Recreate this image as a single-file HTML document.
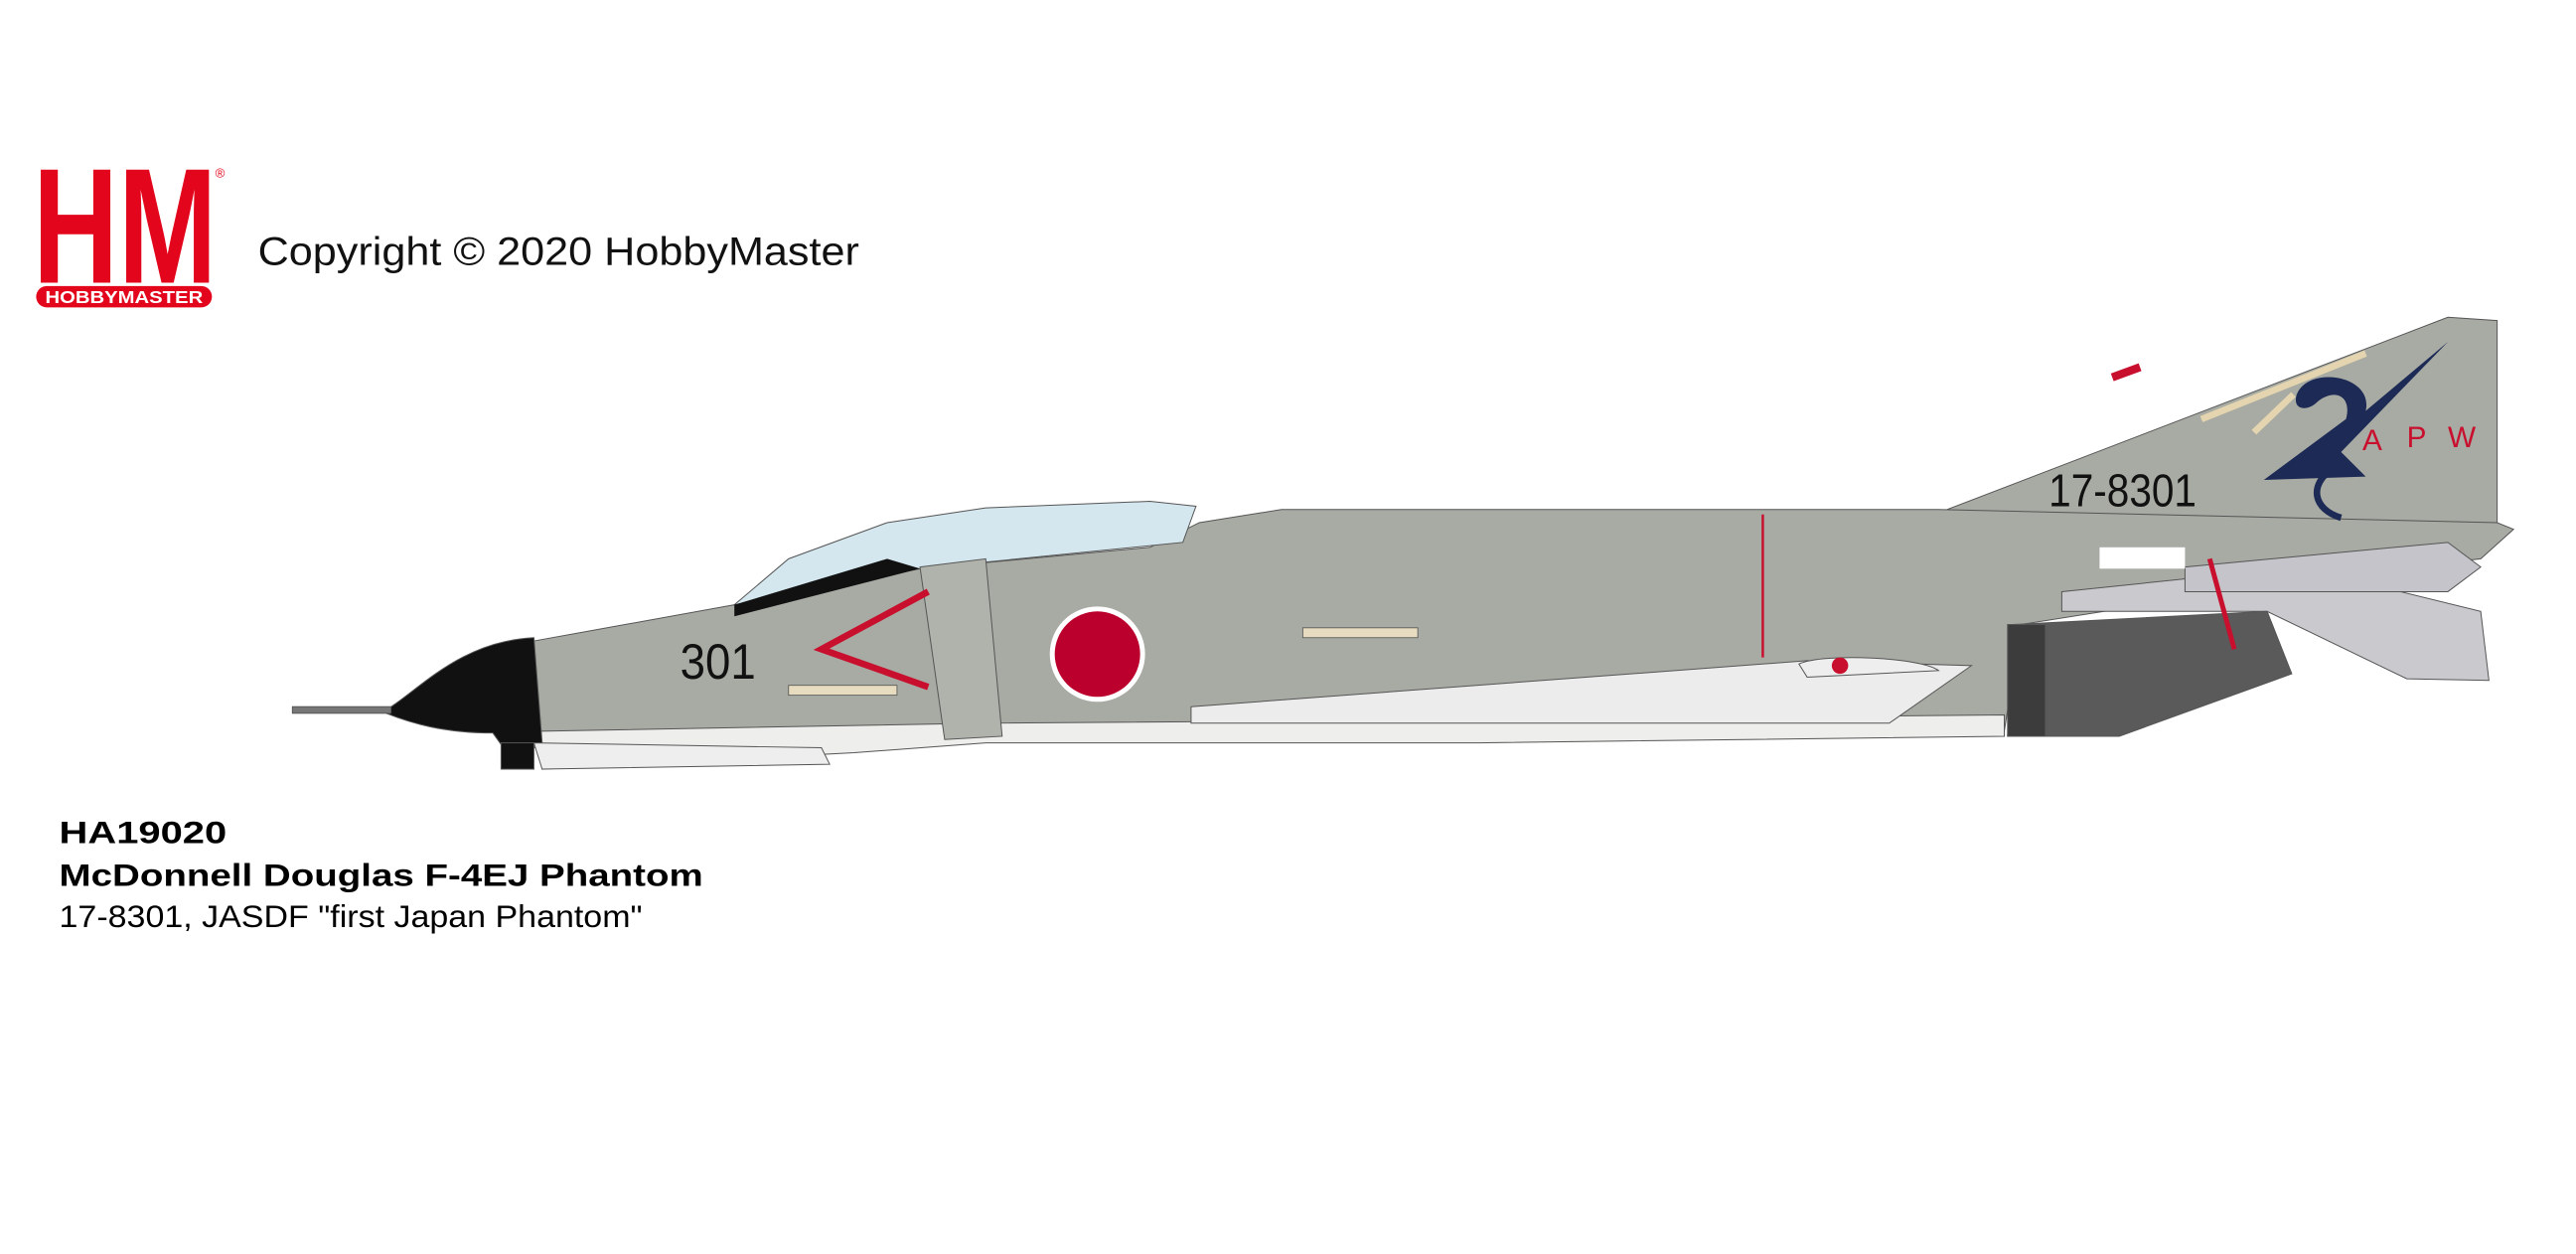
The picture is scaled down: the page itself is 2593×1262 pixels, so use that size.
<!DOCTYPE html>
<html><head><meta charset="utf-8"><style>
html,body{margin:0;padding:0;background:#fff;}
svg{display:block;}
</style></head><body>
<svg width="2593" height="1262" viewBox="0 0 1568 763" xmlns="http://www.w3.org/2000/svg">
<rect width="1568" height="763" fill="#fff"/>
<g font-family="Liberation Sans, sans-serif">
<text x="20" y="172" font-size="100" font-weight="bold" fill="#e3051b" textLength="112" lengthAdjust="spacingAndGlyphs">HM</text>
<text x="131" y="108" font-size="8" fill="#e3051b">®</text>
<rect x="22" y="174" width="107" height="13" rx="6.5" fill="#e3051b"/>
<text x="75.5" y="184.5" font-size="10.5" font-weight="bold" fill="#fff" text-anchor="middle" textLength="96" lengthAdjust="spacingAndGlyphs">HOBBYMASTER</text>
<text x="157" y="161" font-size="24" fill="#111" textLength="366" lengthAdjust="spacingAndGlyphs">Copyright © 2020 HobbyMaster</text>
<text x="36" y="513" font-size="19" font-weight="bold" fill="#000" textLength="102" lengthAdjust="spacingAndGlyphs">HA19020</text>
<text x="36" y="539" font-size="19" font-weight="bold" fill="#000" textLength="392" lengthAdjust="spacingAndGlyphs">McDonnell Douglas F-4EJ Phantom</text>
<text x="36" y="564" font-size="19" fill="#000" textLength="355" lengthAdjust="spacingAndGlyphs">17-8301, JASDF "first Japan Phantom"</text>
</g>
<g stroke="#555" stroke-width="0.6">
<path d="M1180 312 L1490 193 L1520 195 L1520 322 L1180 322 Z" fill="#a8aba3"/>
<path d="M325 390 L447 368 L560 346 L700 333 L730 318 L780 310 L1180 310 L1520 318 L1530 322 L1510 340 L1420 350 L1230 380 L1220 445 L900 445 L600 450 L325 455 Z" fill="#a8aba3"/>
<path d="M325 445 L600 440 L900 438 L1220 435 L1220 448 L900 452 L600 452 L520 458 L330 468 Z" fill="#eeeeec"/>
<path d="M447 368 L480 340 L540 318 L600 309 L700 305 L728 308 L720 330 L560 346 Z" fill="#d4e6ee" stroke="#555"/>
<path d="M447 368 L540 340 L560 346 L447 375 Z" fill="#111" stroke="none"/>
<path d="M235 432 C255 420 280 390 325 388 L330 452 L305 453 L300 446 C270 446 250 440 235 434 Z" fill="#111"/>
<rect x="178" y="430" width="60" height="4" fill="#777"/>
<rect x="305" y="452" width="20" height="16" fill="#111"/>
<path d="M325 452 L500 455 L505 465 L330 468 Z" fill="#eee"/>
<path d="M560 345 L600 340 L610 448 L575 450 Z" fill="#b0b3ab"/>
<path d="M1255 360 L1400 345 L1510 372 L1515 414 L1465 413 L1380 372 L1255 372 Z" fill="#c9c9ce"/>
<path d="M1330 345 L1490 330 L1510 345 L1490 360 L1330 360 Z" fill="#c4c4ca"/>
<path d="M1225 380 L1380 372 L1395 410 L1290 448 L1222 448 Z" fill="#5a5a5a"/>
<path d="M1222 380 L1245 380 L1245 448 L1222 448 Z" fill="#3c3c3c"/>
<path d="M725 430 L1100 402 L1200 405 L1150 440 L725 440 Z" fill="#ececec"/>
<path d="M1095 404 C1110 397 1170 400 1180 408 L1100 412 Z" fill="#eee"/>
</g>
<line x1="1073" y1="313" x2="1073" y2="400" stroke="#c8102e" stroke-width="1.5"/>
<circle cx="668" cy="398" r="29" fill="#fff"/>
<circle cx="668" cy="398" r="26" fill="#bc002d"/>
<path d="M565 360 L500 395 L565 418" fill="none" stroke="#c8102e" stroke-width="4"/>
<rect x="480" y="417" width="66" height="6" fill="#e8dcc0" stroke="#555" stroke-width="0.5"/>
<rect x="793" y="382" width="70" height="6" fill="#e8dcc0" stroke="#555" stroke-width="0.5"/>
<text x="414" y="413" font-family="Liberation Sans, sans-serif" font-size="30" fill="#111" textLength="46" lengthAdjust="spacingAndGlyphs">301</text>
<text x="1247" y="308" font-family="Liberation Sans, sans-serif" font-size="28" fill="#111" textLength="90" lengthAdjust="spacingAndGlyphs">17-8301</text>
<path d="M1490 208 L1440 250 C1445 228 1405 222 1398 240 C1395 250 1405 250 1410 245 C1420 236 1432 240 1428 255 L1378 292 L1440 290 L1425 275 Z" fill="#1c2a55"/>
<path d="M1340 255 L1440 215" stroke="#e4d5b0" stroke-width="4"/>
<path d="M1372 263 L1396 240" stroke="#e4d5b0" stroke-width="4"/>
<path d="M1420 285 C1405 295 1408 310 1425 315" stroke="#1c2a55" stroke-width="4" fill="none"/>
<g font-family="Liberation Sans, sans-serif" font-size="18" fill="#c8102e">
<text x="1438" y="274">A</text><text x="1465" y="272">P</text><text x="1490" y="272">W</text>
</g>
<rect x="1285" y="224" width="18" height="5" fill="#c8102e" transform="rotate(-20 1294 226)"/>
<rect x="1278" y="333" width="52" height="13" fill="#fff"/>
<path d="M1345 340 L1360 395" stroke="#c8102e" stroke-width="3"/>
<circle cx="1120" cy="405" r="5" fill="#c8102e"/>
</svg>
</body></html>
